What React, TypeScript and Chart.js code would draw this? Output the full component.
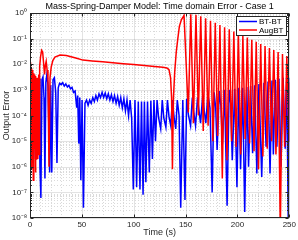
import React, { useEffect, useRef } from "react";
import { Chart, registerables } from "chart.js";

Chart.register(...registerables);

const TITLE = "Mass-Spring-Damper Model: Time domain Error - Case 1";
const X_LABEL = "Time (s)";
const Y_LABEL = "Output Error";
const SERIES_NAMES = ["BT-BT", "AugBT"];
const SERIES_COLORS = ["#0000ff", "#ff0000"];
const X_TICKS = [0, 50, 100, 150, 200, 250];
const Y_TICK_VALUES = [1e-8, 1e-7, 1e-6, 1e-5, 1e-4, 1e-3, 1e-2, 1e-1, 1];
const Y_TICK_LABELS = ["10⁻⁸", "10⁻⁷", "10⁻⁶", "10⁻⁵", "10⁻⁴", "10⁻³", "10⁻²", "10⁻¹", "10⁰"];

// [time (s), output error]
const btbtPoints: [number, number][] = [
  [0, 2e-3], [0.5, 3e-5], [1, 2.5e-3], [1.5, 5e-6], [2, 2e-3], [2.5, 1e-5], [3, 2.5e-3], [3.5, 2e-6],
  [4, 2e-3], [4.5, 3e-5], [5, 2e-3], [5.5, 4e-6], [6, 1.8e-3], [6.6, 2e-5], [7.2, 2.2e-3], [7.9, 5e-6],
  [8.7, 2.8e-3], [9.6, 1e-6], [10.5, 6e-8], [11.5, 2.5e-3], [12.5, 3.2e-3], [13.5, 5e-4], [14.4, 3.5e-7],
  [15.3, 2e-3], [16.2, 3.8e-3], [17.4, 1.5e-3], [19, 6e-7], [20, 1.5e-3], [21, 6e-7], [22.2, 2.5e-3],
  [23.5, 3e-3], [24.8, 8e-4], [26, 1.4e-6], [27.2, 1.2e-3], [28.5, 1.8e-3], [30, 1.6e-3], [31.5, 1.9e-3],
  [33, 1.4e-3], [34.5, 1.7e-3], [36, 1.3e-3], [37.5, 1.5e-3], [39, 1.1e-3], [40.5, 1.25e-3], [42, 8e-4],
  [43.5, 9e-4], [45, 2e-4], [46, 6e-4], [47, 8e-6], [48, 5e-4], [49, 3e-7], [50.2, 4e-4], [51.5, 2.5e-8],
  [53, 3e-4], [54.5, 4e-4], [56, 2.5e-4], [57.5, 4e-4], [59, 3e-4], [60.5, 5e-4], [62, 3.5e-4], [63.5, 6e-4],
  [65, 4e-4], [66.5, 7e-4], [68, 5e-4], [69.5, 8e-4], [71, 5e-4], [72.5, 7.5e-4], [74, 4.5e-4], [75.5, 7e-4],
  [77, 4e-4], [78.5, 6.5e-4], [80, 3.5e-4], [81.5, 6e-4], [83, 3e-4], [84.5, 5.5e-4], [86, 2.5e-4],
  [87.5, 5e-4], [89, 2e-4], [90.5, 4.5e-4], [92, 1.5e-4], [93.5, 4e-4], [95, 1e-4], [96.5, 4e-4], [98, 8e-5],
  [99.6, 1.3e-7], [101.2, 4e-4], [102.8, 1.6e-7], [104.4, 3.5e-4], [106, 1.3e-7], [107.5, 3.5e-4],
  [109, 8e-8], [110.3, 3.5e-4], [111.7, 2.5e-7], [113.3, 3.5e-4], [115, 6e-7], [116.5, 3.8e-4], [118, 2e-6],
  [119.5, 4e-4], [121, 1e-5], [122.5, 4e-4], [124, 8e-5], [126, 3e-5], [127.5, 4e-4], [129, 8e-5],
  [131, 3.5e-5], [132.5, 4e-4], [134, 9e-5], [135.7, 4e-5], [137.3, 4e-4], [139, 8e-5], [140.5, 3e-5],
  [142, 4e-4], [143.7, 1e-4], [145.3, 2.5e-8], [147.3, 4e-4], [149.4, 5e-8], [151, 4.5e-4], [152.8, 1e-4],
  [154.8, 4e-5], [156.5, 5e-4], [158, 1.2e-4], [159.6, 4e-5], [161.5, 5e-4], [163, 1.5e-4], [164.4, 5e-5],
  [166.5, 6e-4], [168, 1.5e-4], [169.5, 5e-5], [171.5, 7e-4], [173.5, 2e-4], [175.6, 1e-7], [177.5, 8e-4],
  [179, 2e-4], [180.4, 4.5e-6], [182.5, 9e-4], [184, 2.5e-4], [185.5, 8e-6], [187.5, 1e-3], [190, 3e-8],
  [192, 1e-3], [193.5, 3e-4], [195, 1.8e-6], [197.3, 1.1e-3], [199.5, 1.6e-7], [201.3, 1.2e-3], [203, 8e-7],
  [205, 1.2e-3], [207, 1.7e-8], [209, 1.3e-3], [210.7, 1e-6], [212.7, 1.4e-3], [214.6, 3.4e-6],
  [216.6, 1.5e-3], [218.7, 5.5e-7], [220.7, 1.7e-3], [223.4, 4e-7], [225.5, 1.9e-3], [227.6, 6e-6],
  [229.5, 2.1e-3], [231.4, 5.5e-7], [233.3, 2.3e-3], [234.6, 3e-6], [236.5, 2.5e-3], [238, 6e-6],
  [240, 2.7e-3], [242, 1e-6], [244, 3e-3], [246, 5e-6], [247.5, 3.2e-3], [249.2, 1e-9], [250, 3e-3],
];

// [time (s), output error]
const augbtPoints: [number, number][] = [
  [0, 1.2e-2], [0.35, 3e-5], [0.7, 9e-3], [1.05, 4e-6], [1.4, 7e-3], [1.75, 8e-7], [2.1, 6e-3], [2.45, 2e-6],
  [2.8, 5e-3], [3.15, 3e-7], [3.5, 4.5e-3], [3.85, 1.5e-6], [4.2, 4e-3], [4.55, 5e-6], [4.9, 3.5e-3],
  [5.25, 6e-7], [5.6, 3e-3], [5.95, 2e-6], [6.3, 3e-3], [6.65, 8e-6], [7, 2.5e-3], [7.35, 2e-6], [7.7, 3e-3],
  [8.05, 1e-5], [8.4, 4e-3], [8.8, 3e-6], [9.3, 8e-3], [10.2, 2e-2], [11.2, 3.5e-2], [12.2, 3e-2],
  [13.2, 1e-2], [14, 4e-3], [14.8, 9e-3], [15.6, 1.3e-2], [16.5, 6e-3], [17.3, 3e-3], [18.3, 1e-6],
  [19.3, 3e-3], [20.5, 8e-3], [22, 1.4e-2], [24, 1.9e-2], [29, 2.3e-2], [35, 2.2e-2], [45, 1.7e-2],
  [51, 1.45e-2], [60, 1.35e-2], [70, 1.25e-2], [80, 1.15e-2], [90, 1.05e-2], [100, 9.7e-3], [110, 9e-3],
  [120, 8.2e-3], [128, 7.6e-3], [132, 7.1e-3], [134, 6.2e-3], [135.5, 3e-3], [136.5, 5e-4], [137.3, 8e-7],
  [138.3, 5e-4], [139.5, 5e-3], [141, 3e-2], [142.5, 0.1], [144, 0.3], [146, 0.55], [148.5, 0.8],
  [152.6, 1.3e-4], [155, 0.9], [157.5, 5e-5], [160, 0.85], [162.3, 1e-4], [164.6, 0.75], [167, 2.5e-5],
  [169.3, 0.62], [171.7, 4e-5], [174, 0.5], [176.3, 1e-5], [178.6, 0.42], [180.9, 1.6e-5], [183.1, 0.34],
  [185.4, 3.5e-7], [187.6, 0.28], [189.9, 1.8e-6], [192.1, 0.23], [194.3, 1e-5], [196.5, 0.19],
  [198.7, 6e-6], [200.9, 0.155], [203.1, 3e-6], [205.2, 0.13], [207.4, 1.2e-5], [209.5, 0.11],
  [211.7, 8e-6], [213.8, 0.09], [216, 4e-6], [218.1, 0.075], [220.3, 8e-7], [222.4, 0.062], [224.5, 2.5e-6],
  [226.6, 0.052], [228.7, 5e-6], [230.8, 0.043], [232.9, 1e-5], [235, 0.036], [237.1, 3e-6], [239.2, 0.03],
  [241.3, 3e-9], [243.4, 0.025], [245.5, 6e-6], [247.6, 0.021], [249.7, 1e-5], [250, 2e-3],
];

const FONT = "'Liberation Sans', Arial, Helvetica, sans-serif";
const AXIS_COLOR = "#262626";

const matlabPlugin = {
  id: "matlabLook",
  beforeDatasetsDraw(chart: any) {
    const { ctx, chartArea } = chart;
    const { left, right, top, bottom } = chartArea;
    const xs = chart.scales.x;
    const ys = chart.scales.y;
    ctx.save();
    ctx.lineWidth = 1;
    // minor grid (dotted)
    ctx.strokeStyle = "rgba(38,38,38,0.17)";
    ctx.setLineDash([1, 2]);
    for (let v = 0; v <= 250; v += 10) {
      if (v % 50 === 0) continue;
      const x = Math.round(xs.getPixelForValue(v)) + 0.5;
      ctx.beginPath(); ctx.moveTo(x, top); ctx.lineTo(x, bottom); ctx.stroke();
    }
    for (let i = 0; i < Y_TICK_VALUES.length - 1; i++) {
      for (let m = 2; m <= 9; m++) {
        const y = Math.round(ys.getPixelForValue(Y_TICK_VALUES[i] * m)) + 0.5;
        ctx.beginPath(); ctx.moveTo(left, y); ctx.lineTo(right, y); ctx.stroke();
      }
    }
    // major grid
    ctx.setLineDash([]);
    ctx.strokeStyle = "rgba(38,38,38,0.13)";
    X_TICKS.forEach((v) => {
      const x = Math.round(xs.getPixelForValue(v)) + 0.5;
      ctx.beginPath(); ctx.moveTo(x, top); ctx.lineTo(x, bottom); ctx.stroke();
    });
    Y_TICK_VALUES.forEach((v) => {
      const y = Math.round(ys.getPixelForValue(v)) + 0.5;
      ctx.beginPath(); ctx.moveTo(left, y); ctx.lineTo(right, y); ctx.stroke();
    });
    ctx.restore();
  },
  afterDatasetsDraw(chart: any) {
    const { ctx, chartArea } = chart;
    const { left, right, top, bottom } = chartArea;
    const xs = chart.scales.x;
    const ys = chart.scales.y;
    const L = Math.round(left) + 0.5, R = Math.round(right) - 0.5;
    const T = Math.round(top) + 0.5, B = Math.round(bottom) - 0.5;
    ctx.save();
    ctx.strokeStyle = AXIS_COLOR;
    ctx.lineWidth = 1;
    ctx.strokeRect(L, T, R - L, B - T);
    X_TICKS.forEach((v) => {
      const x = Math.round(xs.getPixelForValue(v)) + 0.5;
      ctx.beginPath(); ctx.moveTo(x, B); ctx.lineTo(x, B - 3); ctx.moveTo(x, T); ctx.lineTo(x, T + 3); ctx.stroke();
    });
    Y_TICK_VALUES.forEach((v, i) => {
      const y = Math.round(ys.getPixelForValue(v)) + 0.5;
      ctx.beginPath(); ctx.moveTo(L, y); ctx.lineTo(L + 3, y); ctx.moveTo(R, y); ctx.lineTo(R - 3, y); ctx.stroke();
      if (i < Y_TICK_VALUES.length - 1) {
        for (let m = 2; m <= 9; m++) {
          const ym = Math.round(ys.getPixelForValue(v * m)) + 0.5;
          ctx.beginPath(); ctx.moveTo(L, ym); ctx.lineTo(L + 1.5, ym); ctx.moveTo(R, ym); ctx.lineTo(R - 1.5, ym); ctx.stroke();
        }
      }
    });
    ctx.restore();
  },
  afterDraw(chart: any) {
    const { ctx, chartArea } = chart;
    const { left, right, top } = chartArea;
    ctx.save();
    ctx.fillStyle = "#000";
    ctx.font = `9px ${FONT}`;
    ctx.textAlign = "center";
    ctx.textBaseline = "middle";
    ctx.fillText(TITLE, (left + right) / 2, 7);
    const lw = 50, lh = 19;
    const lx = Math.round(right) - 3 - lw, ly = Math.round(top) + 3;
    ctx.fillStyle = "#fff";
    ctx.fillRect(lx, ly, lw, lh);
    ctx.strokeStyle = AXIS_COLOR;
    ctx.lineWidth = 1;
    ctx.strokeRect(lx + 0.5, ly + 0.5, lw, lh);
    ctx.font = `8px ${FONT}`;
    ctx.textAlign = "left";
    SERIES_NAMES.forEach((name, i) => {
      const y = ly + 5.5 + i * 8.5;
      ctx.strokeStyle = SERIES_COLORS[i];
      ctx.lineWidth = 1.5;
      ctx.beginPath(); ctx.moveTo(lx + 3, y); ctx.lineTo(lx + 21, y); ctx.stroke();
      ctx.fillStyle = "#000";
      ctx.fillText(name, lx + 23, y + 0.5);
    });
    ctx.restore();
  },
};

export default function App() {
  const canvasRef = useRef<HTMLCanvasElement | null>(null);
  useEffect(() => {
    document.body.style.margin = "0";
    const canvas = canvasRef.current;
    if (!canvas) return;
    const chart = new Chart(canvas, {
      type: "line",
      data: {
        datasets: [
          {
            label: SERIES_NAMES[0],
            data: btbtPoints.map(([x, y]) => ({ x, y })),
            borderColor: SERIES_COLORS[0],
            borderWidth: 1.5,
            pointRadius: 0,
            fill: false,
            tension: 0,
            order: 2,
          },
          {
            label: SERIES_NAMES[1],
            data: augbtPoints.map(([x, y]) => ({ x, y })),
            borderColor: SERIES_COLORS[1],
            borderWidth: 1.5,
            pointRadius: 0,
            fill: false,
            tension: 0,
            order: 1,
          },
        ],
      },
      options: {
        responsive: false,
        animation: false,
        devicePixelRatio: 1,
        layout: { padding: { top: 13, right: 7, left: 0, bottom: 0 } },
        plugins: {
          legend: { display: false },
          title: { display: false },
          tooltip: { enabled: false },
        },
        scales: {
          x: {
            type: "linear",
            min: 0,
            max: 250,
            afterBuildTicks: (s: any) => { s.ticks = X_TICKS.map((v) => ({ value: v })); },
            afterFit: (s: any) => { s.height = 22; },
            grid: { display: false, drawTicks: false },
            border: { display: false },
            ticks: { font: { family: FONT, size: 8 }, color: AXIS_COLOR, padding: 2, maxRotation: 0, autoSkip: false },
            title: { display: true, text: X_LABEL, font: { family: FONT, size: 9 }, color: AXIS_COLOR, padding: { top: 0, bottom: 2 } },
          },
          y: {
            type: "logarithmic",
            min: 1e-8,
            max: 1,
            afterBuildTicks: (s: any) => { s.ticks = Y_TICK_VALUES.map((v) => ({ value: v })); },
            afterFit: (s: any) => { s.width = 30; },
            grid: { display: false, drawTicks: false },
            border: { display: false },
            ticks: {
              font: { family: FONT, size: 8 },
              color: AXIS_COLOR,
              padding: 3,
              autoSkip: false,
              callback: (_v: any, i: number) => Y_TICK_LABELS[i],
            },
            title: { display: true, text: Y_LABEL, font: { family: FONT, size: 9 }, color: AXIS_COLOR, padding: { top: 1, bottom: 0 } },
          },
        },
      },
      plugins: [matlabPlugin],
    } as any);
    return () => chart.destroy();
  }, []);
  return (
    <div style={{ position: "absolute", left: 0, top: 0, width: 298, height: 240, background: "#fff" }}>
      <canvas ref={canvasRef} width={298} height={240} style={{ width: 298, height: 240, display: "block" }} />
    </div>
  );
}
